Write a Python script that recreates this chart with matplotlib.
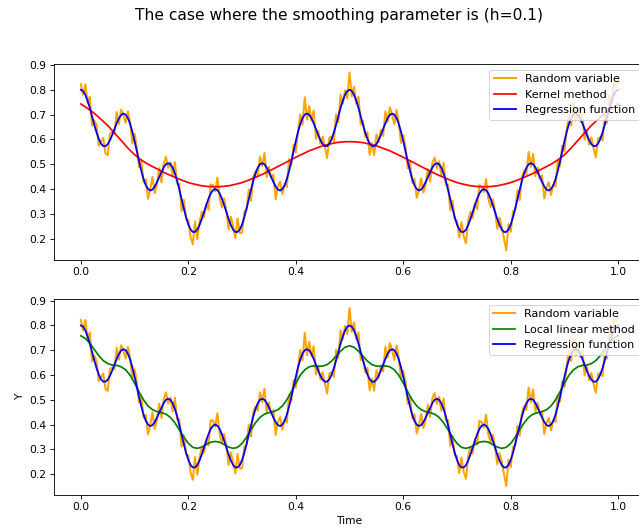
import numpy as np
import matplotlib
matplotlib.use("Agg")
import matplotlib.pyplot as plt
from matplotlib.ticker import MultipleLocator

# observed data (random variable), 241 samples on [0, 1]
y_obs = [
    .822, .780, .822, .747, .772, .655, .677, .658, .575, .591,
    .606, .543, .536, .624, .630, .623, .710, .662, .720, .698,
    .667, .713, .671, .583, .623, .567, .488, .515, .428, .439,
    .361, .400, .449, .383, .420, .484, .427, .502, .530, .486,
    .509, .453, .508, .421, .421, .311, .357, .280, .275, .207,
    .177, .269, .198, .267, .309, .286, .338, .316, .418, .416,
    .391, .446, .364, .325, .362, .312, .237, .288, .251, .203,
    .281, .222, .224, .309, .318, .398, .352, .451, .472, .456,
    .530, .492, .545, .448, .490, .445, .458, .359, .410, .430,
    .379, .421, .407, .521, .496, .578, .548, .634, .701, .659,
    .770, .680, .735, .676, .716, .602, .636, .582, .611, .567,
    .525, .607, .611, .592, .701, .669, .781, .744, .798, .765,
    .870, .774, .813, .744, .772, .660, .674, .610, .629, .538,
    .585, .537, .620, .588, .639, .614, .713, .670, .729, .701,
    .661, .719, .668, .586, .617, .570, .484, .512, .425, .442,
    .364, .397, .443, .386, .419, .481, .430, .505, .527, .483,
    .512, .456, .505, .418, .418, .314, .354, .277, .272, .204,
    .266, .209, .181, .273, .309, .283, .341, .319, .415, .410,
    .388, .440, .361, .328, .359, .310, .240, .285, .248, .200,
    .152, .258, .227, .310, .315, .395, .355, .448, .475, .459,
    .550, .489, .542, .451, .487, .442, .455, .362, .407, .427,
    .376, .418, .410, .518, .493, .575, .551, .637, .698, .656,
    .745, .677, .732, .673, .704, .599, .633, .579, .608, .564,
    .528, .604, .608, .595, .698, .666, .778, .741, .825, .817,
    .838,
]

# true regression function on the same grid
y_reg = [
    .800, .795, .780, .756, .727, .693, .659, .628, .602, .583,
    .573, .573, .581, .597, .618, .641, .665, .685, .699, .704,
    .700, .686, .662, .631, .593, .552, .511, .473, .440, .415,
    .400, .394, .398, .410, .428, .448, .469, .487, .500, .504,
    .500, .486, .463, .433, .397, .359, .321, .286, .257, .237,
    .227, .227, .236, .255, .279, .307, .335, .361, .382, .395,
    .400, .395, .382, .361, .335, .307, .279, .255, .236, .227,
    .227, .237, .257, .286, .321, .359, .397, .433, .463, .486,
    .500, .504, .500, .487, .469, .448, .428, .410, .398, .394,
    .400, .415, .440, .473, .511, .552, .593, .631, .662, .686,
    .700, .704, .699, .685, .665, .641, .618, .597, .581, .573,
    .573, .583, .602, .628, .659, .693, .727, .756, .780, .795,
    .800, .795, .780, .756, .727, .693, .659, .628, .602, .583,
    .573, .573, .581, .597, .618, .641, .665, .685, .699, .704,
    .700, .686, .662, .631, .593, .552, .511, .473, .440, .415,
    .400, .394, .398, .410, .428, .448, .469, .487, .500, .504,
    .500, .486, .463, .433, .397, .359, .321, .286, .257, .237,
    .227, .227, .236, .255, .279, .307, .335, .361, .382, .395,
    .400, .395, .382, .361, .335, .307, .279, .255, .236, .227,
    .227, .237, .257, .286, .321, .359, .397, .433, .463, .486,
    .500, .504, .500, .487, .469, .448, .428, .410, .398, .394,
    .400, .415, .440, .473, .511, .552, .593, .631, .662, .686,
    .700, .704, .699, .685, .665, .641, .618, .597, .581, .573,
    .573, .583, .602, .628, .659, .693, .727, .756, .780, .795,
    .800,
]

# kernel (Nadaraya-Watson) estimate, 81 points
y_kernel = [
    .743, .725, .705, .681, .656, .626, .596, .565, .538, .517,
    .500, .486, .472, .459, .447, .436, .426, .419, .413, .410,
    .409, .410, .413, .419, .426, .436, .447, .459, .472, .486,
    .500, .514, .528, .541, .554, .564, .574, .581, .587, .590,
    .591, .590, .587, .581, .574, .564, .554, .541, .528, .514,
    .500, .486, .472, .459, .447, .436, .426, .419, .413, .410,
    .409, .410, .413, .419, .426, .436, .447, .459, .472, .486,
    .500, .517, .538, .565, .596, .626, .656, .681, .705, .725,
    .743,
]

# local linear estimate, 121 points
y_loclin = [
    .758, .748, .728, .703, .678, .658, .646, .640, .639, .633,
    .621, .599, .567, .532, .500, .475, .460, .452, .448, .442,
    .429, .407, .379, .349, .324, .308, .304, .309, .319, .329,
    .332, .329, .319, .309, .304, .308, .324, .349, .379, .407,
    .429, .442, .448, .452, .460, .475, .500, .532, .567, .599,
    .621, .633, .637, .635, .636, .642, .656, .676, .696, .712,
    .718, .712, .696, .676, .656, .642, .636, .635, .637, .633,
    .621, .599, .567, .532, .500, .475, .460, .452, .448, .442,
    .429, .407, .379, .349, .324, .308, .304, .309, .319, .329,
    .332, .329, .319, .309, .304, .308, .324, .349, .379, .407,
    .429, .442, .448, .452, .460, .475, .500, .532, .567, .599,
    .621, .633, .639, .640, .646, .658, .678, .703, .728, .748,
    .758,
]

t_obs = np.linspace(0, 1, len(y_obs))
t_kernel = np.linspace(0, 1, len(y_kernel))
t_loclin = np.linspace(0, 1, len(y_loclin))

DPI = 77
fig = plt.figure(figsize=(639 / DPI, 531 / DPI), dpi=DPI)
ax1 = fig.add_axes([0.0845, 0.5104, 0.925, 0.3691])
ax2 = fig.add_axes([0.0845, 0.0684, 0.925, 0.3682])

ax1.plot(t_obs, y_obs, color="orange", lw=1.9, label="Random variable")
ax1.plot(t_kernel, y_kernel, color="red", lw=1.6, label="Kernel method")
ax1.plot(t_obs, y_reg, color="blue", lw=1.7, label="Regression function")
ax1.set_ylim(0.114, 0.904)
ax1.legend(loc="upper right", fontsize=10.4)

ax2.plot(t_obs, y_obs, color="orange", lw=1.9, label="Random variable")
ax2.plot(t_loclin, y_loclin, color="green", lw=1.6, label="Local linear method")
ax2.plot(t_obs, y_reg, color="blue", lw=1.7, label="Regression function")
ax2.set_ylim(0.117, 0.906)
ax2.legend(loc="upper right", fontsize=10.4)
ax2.set_xlabel("Time")
ax2.set_ylabel("Y")

for ax in (ax1, ax2):
    ax.yaxis.set_major_locator(MultipleLocator(0.1))

fig.suptitle("The case where the smoothing parameter is (h=0.1)", x=0.531, y=0.985, fontsize=14.5)

fig.savefig("out.png", dpi=DPI)
